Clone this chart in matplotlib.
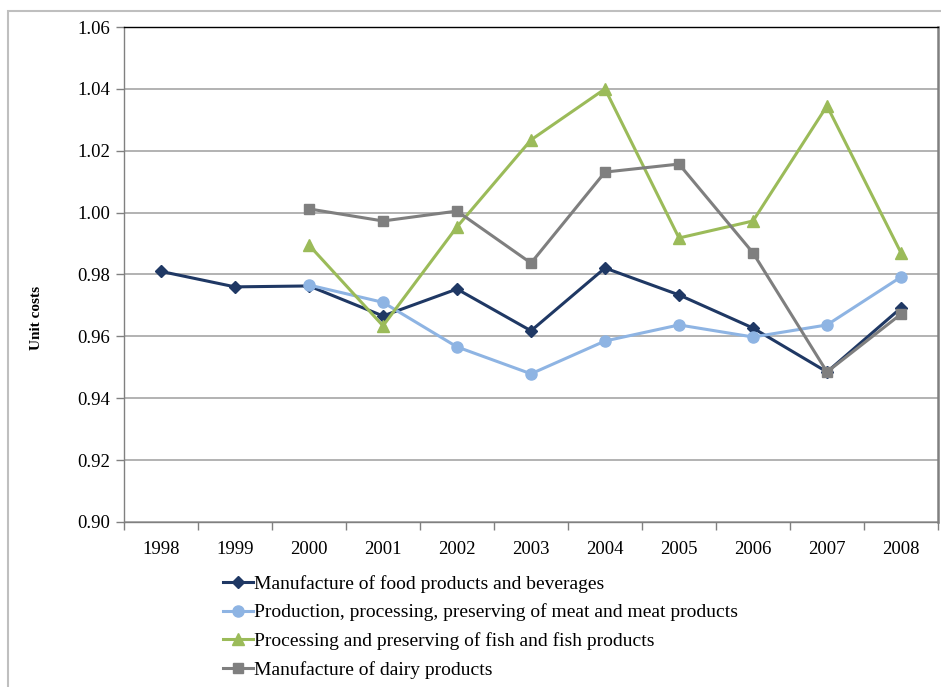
import matplotlib
matplotlib.use("Agg")
import matplotlib.pyplot as plt
from matplotlib.patches import Rectangle
from matplotlib.lines import Line2D
import numpy as np

plt.rcParams['font.family'] = ['Liberation Serif', 'DejaVu Serif']

years = ['1998', '1999', '2000', '2001', '2002', '2003', '2004', '2005', '2006', '2007', '2008']

food = [0.981, 0.976, 0.9763, 0.9666, 0.9753, 0.9618, 0.9821, 0.9734, 0.9627, 0.9485, 0.9692]
meat = [None, None, 0.9766, 0.971, 0.9566, 0.9479, 0.9585, 0.9637, 0.9598, 0.9637, 0.9792]
fish = [None, None, 0.9895, 0.9634, 0.9954, 1.0235, 1.040, 0.9918, 0.9973, 1.0345, 0.987]
dairy = [None, None, 1.0012, 0.9973, 1.0005, 0.9837, 1.0131, 1.0157, 0.987, 0.9485, 0.9672]

series_names = [
    'Manufacture of food products and beverages',
    'Production, processing, preserving of meat and meat products',
    'Processing and preserving of fish and fish products',
    'Manufacture of dairy products',
]
colors = ['#1F3864', '#8EB4E3', '#9BBB59', '#7F7F7F']
markers = ['D', 'o', '^', 's']
msizes = [6, 8, 8, 7.5]

fig = plt.figure(figsize=(9.41, 6.87), dpi=100)

# outer frame
fig.patches.append(Rectangle((8 / 941, -0.1), 1.2, 1 - 11 / 687 + 0.1,
                             transform=fig.transFigure, fill=False,
                             edgecolor='#BFBFBF', linewidth=1.5))

ax = fig.add_axes([124 / 941, 1 - 522 / 687, 814 / 941, 495 / 687])

x = np.arange(len(years))
handles = []
for vals, name, c, m, ms in zip([food, meat, fish, dairy], series_names, colors, markers, msizes):
    y = np.array([np.nan if v is None else v for v in vals], dtype=float)
    ax.plot(x, y, color=c, linewidth=2.2, marker=m, markersize=ms,
            markeredgecolor=c, markerfacecolor=c, label=name)
    handles.append(Line2D([0], [0], color=c, linewidth=2.2, marker=m,
                          markersize=ms, markerfacecolor=c, markeredgecolor=c))

ax.set_xlim(-0.5, len(years) - 0.5)
ax.set_ylim(0.90, 1.06)
ax.set_yticks(np.arange(0.90, 1.0601, 0.02))
ax.set_yticklabels([f'{v:.2f}' for v in np.arange(0.90, 1.0601, 0.02)])
ax.yaxis.grid(True, color='#A6A6A6', linewidth=1.2)
ax.set_axisbelow(True)

ax.set_xticks(x)
ax.set_xticklabels(years)
ax.set_xticks(np.arange(-0.5, len(years)), minor=True)
ax.tick_params(axis='x', which='major', length=0, pad=14, labelsize=13.5)
ax.tick_params(axis='x', which='minor', length=6, color='#808080', width=1)
ax.tick_params(axis='y', length=6, color='#808080', width=1, pad=4, labelsize=13.5)

for s in ['left', 'bottom']:
    ax.spines[s].set_color('#808080')
    ax.spines[s].set_linewidth(1)
ax.spines['top'].set_color('#000000')
ax.spines['top'].set_linewidth(1)
ax.spines['right'].set_color('#808080')
ax.spines['right'].set_linewidth(1.8)

fig.text(37 / 941, 1 - 318 / 687, 'Unit costs', rotation=90, ha='center', va='center',
         fontsize=11, fontweight='bold')

fig.legend(handles, series_names, loc='upper left',
           bbox_to_anchor=(223 / 941, 1 - 575 / 687), frameon=False,
           fontsize=14, handlelength=1.55, handletextpad=0.05,
           labelspacing=0.55, borderaxespad=0, borderpad=0)

fig.savefig('out.png', dpi=100)
